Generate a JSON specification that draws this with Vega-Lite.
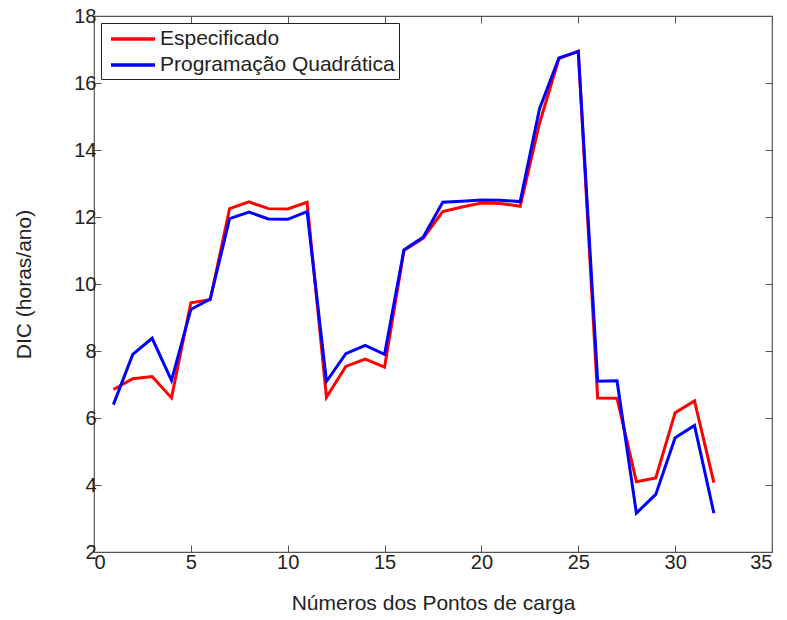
{
  "$schema": "https://vega.github.io/schema/vega-lite/v6.json",
  "autosize": "none",
  "width": 678,
  "height": 536,
  "padding": {"left": 94, "top": 16, "right": 15, "bottom": 68},
  "background": "white",
  "config": {
    "font": "Liberation Sans",
    "view": {"stroke": "#555555", "strokeWidth": 1.2},
    "axis": {
      "domain": false,
      "grid": false,
      "tickColor": "#555555",
      "tickSize": -7,
      "labelFontSize": 20,
      "labelColor": "#222222",
      "titleFontSize": 21,
      "titleFontWeight": "normal",
      "titleColor": "#222222"
    }
  },
  "data": {
    "values": [
      {"x": 1, "s": "Especificado", "v": 6.85}, {"x": 1, "s": "Programação Quadrática", "v": 6.4},
      {"x": 2, "s": "Especificado", "v": 7.17}, {"x": 2, "s": "Programação Quadrática", "v": 7.9},
      {"x": 3, "s": "Especificado", "v": 7.24}, {"x": 3, "s": "Programação Quadrática", "v": 8.38},
      {"x": 4, "s": "Especificado", "v": 6.6}, {"x": 4, "s": "Programação Quadrática", "v": 7.12},
      {"x": 5, "s": "Especificado", "v": 9.44}, {"x": 5, "s": "Programação Quadrática", "v": 9.24},
      {"x": 6, "s": "Especificado", "v": 9.53}, {"x": 6, "s": "Programação Quadrática", "v": 9.55},
      {"x": 7, "s": "Especificado", "v": 12.25}, {"x": 7, "s": "Programação Quadrática", "v": 11.95},
      {"x": 8, "s": "Especificado", "v": 12.45}, {"x": 8, "s": "Programação Quadrática", "v": 12.15},
      {"x": 9, "s": "Especificado", "v": 12.25}, {"x": 9, "s": "Programação Quadrática", "v": 11.94},
      {"x": 10, "s": "Especificado", "v": 12.24}, {"x": 10, "s": "Programação Quadrática", "v": 11.93},
      {"x": 11, "s": "Especificado", "v": 12.44}, {"x": 11, "s": "Programação Quadrática", "v": 12.16},
      {"x": 12, "s": "Especificado", "v": 6.62}, {"x": 12, "s": "Programação Quadrática", "v": 7.09},
      {"x": 13, "s": "Especificado", "v": 7.54}, {"x": 13, "s": "Programação Quadrática", "v": 7.92},
      {"x": 14, "s": "Especificado", "v": 7.76}, {"x": 14, "s": "Programação Quadrática", "v": 8.17},
      {"x": 15, "s": "Especificado", "v": 7.52}, {"x": 15, "s": "Programação Quadrática", "v": 7.9},
      {"x": 16, "s": "Especificado", "v": 11.0}, {"x": 16, "s": "Programação Quadrática", "v": 11.02},
      {"x": 17, "s": "Especificado", "v": 11.37}, {"x": 17, "s": "Programação Quadrática", "v": 11.4},
      {"x": 18, "s": "Especificado", "v": 12.16}, {"x": 18, "s": "Programação Quadrática", "v": 12.44},
      {"x": 19, "s": "Especificado", "v": 12.3}, {"x": 19, "s": "Programação Quadrática", "v": 12.47},
      {"x": 20, "s": "Especificado", "v": 12.42}, {"x": 20, "s": "Programação Quadrática", "v": 12.51},
      {"x": 21, "s": "Especificado", "v": 12.4}, {"x": 21, "s": "Programação Quadrática", "v": 12.5},
      {"x": 22, "s": "Especificado", "v": 12.32}, {"x": 22, "s": "Programação Quadrática", "v": 12.46},
      {"x": 23, "s": "Especificado", "v": 14.8}, {"x": 23, "s": "Programação Quadrática", "v": 15.23},
      {"x": 24, "s": "Especificado", "v": 16.73}, {"x": 24, "s": "Programação Quadrática", "v": 16.75},
      {"x": 25, "s": "Especificado", "v": 16.95}, {"x": 25, "s": "Programação Quadrática", "v": 16.94},
      {"x": 26, "s": "Especificado", "v": 6.6}, {"x": 26, "s": "Programação Quadrática", "v": 7.1},
      {"x": 27, "s": "Especificado", "v": 6.59}, {"x": 27, "s": "Programação Quadrática", "v": 7.11},
      {"x": 28, "s": "Especificado", "v": 4.1}, {"x": 28, "s": "Programação Quadrática", "v": 3.16},
      {"x": 29, "s": "Especificado", "v": 4.21}, {"x": 29, "s": "Programação Quadrática", "v": 3.72},
      {"x": 30, "s": "Especificado", "v": 6.16}, {"x": 30, "s": "Programação Quadrática", "v": 5.41},
      {"x": 31, "s": "Especificado", "v": 6.51}, {"x": 31, "s": "Programação Quadrática", "v": 5.78},
      {"x": 32, "s": "Especificado", "v": 4.07}, {"x": 32, "s": "Programação Quadrática", "v": 3.16}
    ]
  },
  "resolve": {"axis": {"x": "independent", "y": "independent"}},
  "layer": [
    {
      "mark": {"type": "line", "strokeWidth": 3, "clip": true},
      "encoding": {
        "x": {"field": "x", "type": "quantitative", "scale": {"domain": [0, 35], "nice": false},
              "axis": {"values": [0, 5, 10, 15, 20, 25, 30, 35], "title": "Números dos Pontos de carga", "titlePadding": 20, "labelPadding": 7}},
        "y": {"field": "v", "type": "quantitative", "scale": {"domain": [2, 18], "nice": false, "zero": false},
              "axis": {"values": [2, 4, 6, 8, 10, 12, 14, 16, 18], "title": "DIC (horas/ano)", "titlePadding": 39, "labelPadding": 5}},
        "color": {"field": "s", "type": "nominal",
                  "scale": {"domain": ["Especificado", "Programação Quadrática"], "range": ["#ff0000", "#0000ff"]},
                  "legend": {"title": null, "orient": "top-left", "offset": 7, "fillColor": "white", "strokeColor": "#222222",
                             "padding": 4, "symbolType": "M-2.2,0H2.2", "symbolStrokeWidth": 3.5, "symbolSize": 400, "symbolOffset": 16,
                             "labelFontSize": 21, "labelColor": "#222222", "rowPadding": 4, "labelOffset": 15, "labelLimit": 400}},
        "order": {"field": "s"}
      }
    },
    {
      "mark": {"type": "line", "strokeOpacity": 0},
      "encoding": {
        "x": {"field": "x", "type": "quantitative", "scale": {"domain": [0, 35], "nice": false},
              "axis": {"orient": "top", "values": [0, 5, 10, 15, 20, 25, 30, 35], "labels": false, "title": null}},
        "y": {"field": "v", "type": "quantitative", "scale": {"domain": [2, 18], "nice": false, "zero": false},
              "axis": {"orient": "right", "values": [2, 4, 6, 8, 10, 12, 14, 16, 18], "labels": false, "title": null}},
        "detail": {"field": "s"}
      }
    }
  ]
}
